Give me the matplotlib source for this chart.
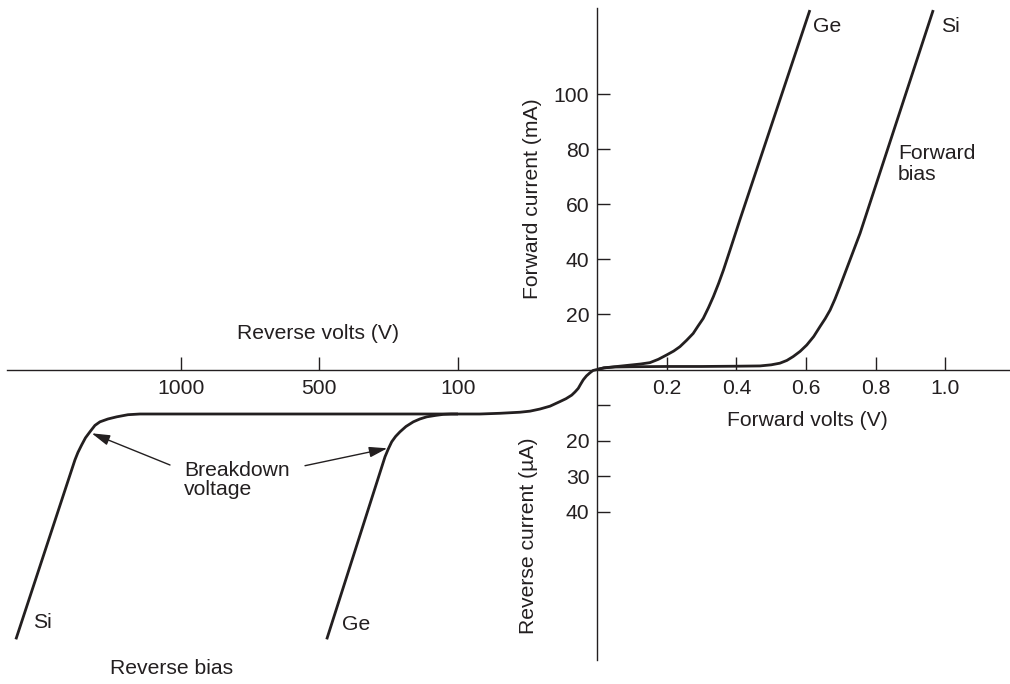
import numpy as np
import matplotlib
matplotlib.use("Agg")
import matplotlib.pyplot as plt

plt.rcParams['font.family'] = ['Liberation Sans', 'DejaVu Sans']
INK = '#231f20'
FS = 15.2

# forward characteristics (volts, mA)
ge_fwd_v = [0, 0.02, 0.05, 0.0947, 0.125, 0.152, 0.176, 0.2, 0.22, 0.238, 0.257, 0.276, 0.29, 0.305,
            0.32, 0.334, 0.349, 0.363, 0.382, 0.410, 0.611]
ge_fwd_ma = [0, 0.6, 1.0, 1.6, 2.0, 2.5, 3.7, 5.3, 6.7, 8.3, 10.6, 13.1, 15.8, 18.6,
             22.5, 26.5, 31.3, 36.2, 43.5, 54.4, 130.7]
si_fwd_v = [0, 0.02, 0.05, 0.1, 0.2, 0.3, 0.4, 0.468, 0.5, 0.525, 0.545, 0.563, 0.583, 0.602,
            0.622, 0.640, 0.655, 0.669, 0.683, 0.697, 0.726, 0.755, 0.965]
si_fwd_ma = [0, 0.6, 0.9, 1.0, 1.1, 1.1, 1.2, 1.3, 1.7, 2.3, 3.3, 4.7, 6.6, 8.9,
             12.0, 15.6, 18.5, 21.6, 25.6, 30.1, 39.8, 49.5, 130.7]

# reverse characteristics (reverse volts, reverse uA)
common_rev_v = [0, 2.9, 5.0, 7.6, 9.9, 11.9, 13.5, 15.8, 18.2, 22.3, 26.6, 33.8, 41.0,
                48.2, 55.4, 69.8, 84.2, 100]
common_rev_ua = [0, 0.28, 0.9, 1.8, 2.9, 4.2, 5.3, 6.3, 7.2, 8.2, 9.0, 10.3, 11.1,
                 11.7, 12.0, 12.3, 12.5, 12.5]
si_rev_v = [600, 1100, 1146.8, 1190.1, 1230.9, 1262.3, 1291.1, 1309.2, 1327.2, 1343.4, 1357.1,
            1370.5, 1381.3, 1594.2]
si_rev_ua = [12.5, 12.5, 12.5, 12.7, 13.3, 13.9, 14.7, 15.7, 17.5, 19.2, 21.2,
             23.3, 25.4, 75.8]
ge_rev_v = [120, 142.4, 165, 190.3, 210, 228.9, 250, 267.3, 280, 291.2, 301, 310.5, 478.7]
ge_rev_ua = [12.5, 12.6, 12.9, 13.3, 13.9, 14.7, 16.0, 17.5, 18.8, 20.3, 22.3, 24.5, 75.8]

fwd_v_ticks = [0.2, 0.4, 0.6, 0.8, 1.0]
fwd_v_labels = ['0.2', '0.4', '0.6', '0.8', '1.0']
rev_v_ticks = [100, 500, 1000]
rev_v_labels = ['100', '500', '1000']
fwd_ma_ticks = [20, 40, 60, 80, 100]
rev_ua_ticks = [10, 20, 30, 40]
rev_ua_labels = ['', '20', '30', '40']

# the reverse quadrant is drawn on its own (non linear) scale
REV_V_KNOTS = [0, 100, 500, 1000]
REV_X_KNOTS = [0, -0.399, -0.797, -1.195]
UA_TO_Y = 1.2945


def rev_v_to_x(v):
    v = np.asarray(v, dtype=float)
    x = np.interp(v, REV_V_KNOTS, REV_X_KNOTS)
    over = v > 1000
    x[over] = REV_X_KNOTS[-1] - (v[over] - 1000) * (0.398 / 500)
    return x


def rev_ua_to_y(ua):
    return -np.asarray(ua, dtype=float) * UA_TO_Y


fig = plt.figure(figsize=(10.1, 6.84), dpi=100)
ax = fig.add_axes([0, 0, 1, 1])
ax.set_xlim(-1.7136, 1.1854)
ax.set_ylim(-114.36, 134.36)

for s in ('top', 'right'):
    ax.spines[s].set_visible(False)
ax.spines['bottom'].set_position(('data', 0))
ax.spines['left'].set_position(('data', 0))
ax.spines['bottom'].set_bounds(-1.6934, 1.1854)
ax.spines['left'].set_bounds(-105.6, 131.5)
for s in ('bottom', 'left'):
    ax.spines[s].set_color(INK)
    ax.spines[s].set_linewidth(1.0)

ax.set_xticks(list(rev_v_to_x(rev_v_ticks)) + fwd_v_ticks)
ax.set_xticklabels(rev_v_labels + fwd_v_labels)
ax.set_yticks(fwd_ma_ticks + list(rev_ua_to_y(rev_ua_ticks)))
ax.set_yticklabels([str(t) for t in fwd_ma_ticks] + rev_ua_labels)
ax.tick_params(direction='in', length=9.4, width=1.0, color=INK,
               labelcolor=INK, labelsize=FS)
ax.tick_params(axis='x', pad=6.5)
ax.tick_params(axis='y', pad=5.5)
ax.patch.set_visible(False)

lw = 2.0
line = dict(color=INK, lw=lw, solid_capstyle='butt', solid_joinstyle='round')
ax.plot(ge_fwd_v, ge_fwd_ma, **line)
ax.plot(si_fwd_v, si_fwd_ma, **line)
ax.plot(rev_v_to_x(common_rev_v), rev_ua_to_y(common_rev_ua), **line)
ax.plot(rev_v_to_x([100] + si_rev_v), rev_ua_to_y([12.5] + si_rev_ua), **line)
ax.plot(rev_v_to_x([100] + ge_rev_v), rev_ua_to_y([12.5] + ge_rev_ua), **line)


def px(x, y):
    return x / 1010, 1 - y / 684


def label(x, y, s, **kw):
    kw.setdefault('va', 'center')
    ax.text(*px(x, y), s, transform=ax.transAxes, fontsize=FS, color=INK, **kw)


label(813, 27, 'Ge', ha='left')
label(941, 27, 'Si', ha='left')
label(898, 164, 'Forward\nbias', ha='left', linespacing=1.1)
label(532, 199, 'Forward current (mA)', ha='center', rotation=90)
label(529, 536, 'Reverse current (\u00b5A)', ha='center', rotation=90)
label(807, 420, 'Forward volts (V)', ha='center')
label(318, 333, 'Reverse volts (V)', ha='center')
label(184, 480, 'Breakdown\nvoltage', ha='left', linespacing=1.05)
label(33, 622, 'Si', ha='left')
label(342, 624, 'Ge', ha='left')
label(172, 669, 'Reverse bias', ha='center')

arrow = dict(arrowstyle='-|>,head_length=0.55,head_width=0.16', color=INK, lw=1.0,
             mutation_scale=20, shrinkA=0, shrinkB=0)
ax.annotate('', xy=px(91.7, 433.3), xytext=px(170, 465),
            xycoords='axes fraction', textcoords='axes fraction', arrowprops=arrow)
ax.annotate('', xy=px(387.3, 448.3), xytext=px(305, 465.7),
            xycoords='axes fraction', textcoords='axes fraction', arrowprops=arrow)

fig.savefig('out.png', dpi=100, facecolor='white')
